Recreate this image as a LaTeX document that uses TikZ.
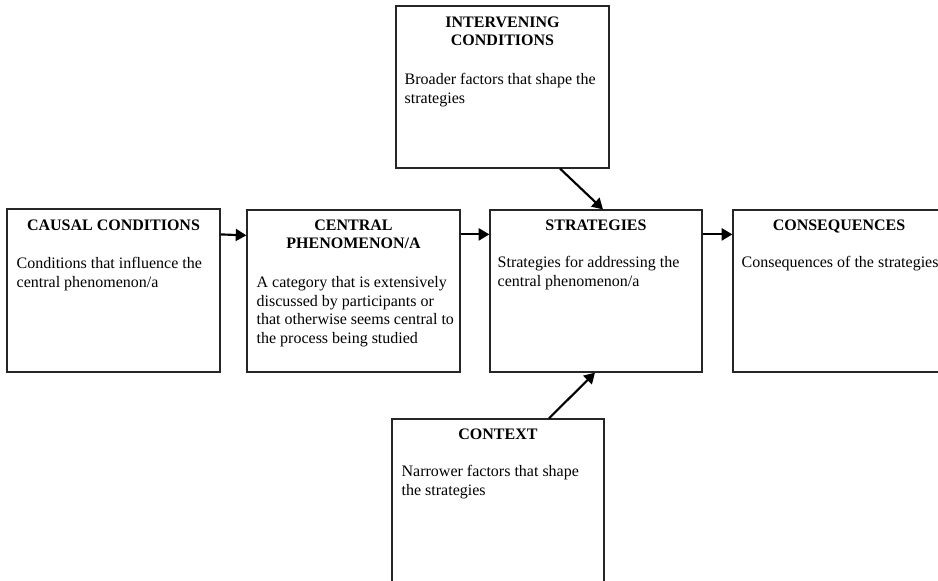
\documentclass[tikz,border=0pt]{standalone}
\usepackage{fontspec}
\setmainfont{Liberation Serif}
\usetikzlibrary{calc,arrows.meta}
\begin{document}
\begin{tikzpicture}[x=0.75pt,y=-0.75pt,
  box/.style={draw=black!85,line width=0.9pt,rectangle,inner sep=0pt},
  ttl/.style={font=\fontsize{12}{13.5}\selectfont\bfseries,align=center,anchor=base,inner sep=0pt},
  body/.style={font=\fontsize{12}{14}\selectfont,align=left,anchor=base west,inner sep=0pt},
  arr/.style={line width=1.6pt,-{Triangle[length=8pt,width=9pt]}}]
\useasboundingbox (0,0) rectangle (938,581);
\clip (0,0) rectangle (938,581);
\node[box,minimum width=213*0.75pt,minimum height=162*0.75pt] (inter) at (502.5,87) {};
\node[box,minimum width=213*0.75pt,minimum height=163*0.75pt] (causal) at (113.5,290.5) {};
\node[box,minimum width=213*0.75pt,minimum height=162*0.75pt] (central) at (353.5,291) {};
\node[box,minimum width=212*0.75pt,minimum height=162*0.75pt] (strat) at (596,291) {};
\node[box,minimum width=212*0.75pt,minimum height=162*0.75pt] (cons) at (839,291) {};
\node[box,minimum width=212*0.75pt,minimum height=166*0.75pt] (context) at (498,502) {};

% base anchor of a multi-line node lies on its last line
\node[ttl] (interT) at ($(inter.north)+(0,40)$) {INTERVENING\\CONDITIONS};
\node[body] (interB) at ($(inter.north west)+(9,98)$) {Broader factors that shape the\\strategies};

\node[ttl] (causalT) at ($(causal.north)+(0,22)$) {CAUSAL CONDITIONS};
\node[body] (causalB) at ($(causal.north west)+(10,79)$) {Conditions that influence the\\central phenomenon/a};

\node[ttl] (centralT) at ($(central.north)+(0,39)$) {CENTRAL\\PHENOMENON/A};
\node[body] (centralB) at ($(central.north west)+(10,134)$) {A category that is extensively\\discussed by participants or\\that otherwise seems central to\\the process being studied};

\node[ttl] (stratT) at ($(strat.north)+(0,21)$) {STRATEGIES};
\node[body] (stratB) at ($(strat.north west)+(8,77)$) {Strategies for addressing the\\central phenomenon/a};

\node[ttl] (consT) at ($(cons.north)+(0,21)$) {CONSEQUENCES};
\node[body] (consB) at ($(cons.north west)+(9,58)$) {Consequences of the strategies};

\node[ttl] (contextT) at ($(context.north)+(0,21)$) {CONTEXT};
\node[body] (contextB) at ($(context.north west)+(10,77)$) {Narrower factors that shape\\the strategies};

\draw[arr] ($(causal.north east)+(0,26)$) -- ($(central.north west)+(0,26)$);
\draw[arr] ($(central.north east)+(0,25)$) -- ($(strat.north west)+(0,25)$);
\draw[arr] ($(strat.north east)+(0,25)$) -- ($(cons.north west)+(0,25)$);
\draw[arr] ($(inter.south)+(57.5,0)$) -- ($(strat.north)+(7,0)$);
\draw[arr] ($(context.north)+(51,0)$) -- ($(strat.south)+(-1,0)$);
\end{tikzpicture}
\end{document}
